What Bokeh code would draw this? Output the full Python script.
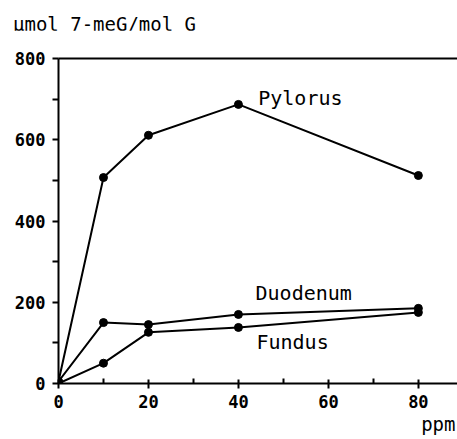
from bokeh.plotting import figure
from bokeh.models import Range1d, LinearAxis, Label, FixedTicker, Title, Div
from bokeh.layouts import column
from bokeh.embed import file_html
from bokeh.resources import INLINE

ppm = [0, 10, 20, 40, 80]
pylorus = [5, 507, 611, 687, 512]
duodenum = [5, 150, 145, 170, 185]
fundus = [0, 50, 126, 138, 175]
x_major = [0, 20, 40, 60, 80]
x_minor = [10, 30, 50, 70]
y_major = [0, 200, 400, 600, 800]
y_minor = [100, 300, 500, 700]
series_names = ["Pylorus", "Duodenum", "Fundus"]
y_title = "μmol 7-meG/mol G"
x_title = "ppm"

FONT = "DejaVu Sans Mono"

head = Div(text=('<div style="padding:13px 0 0 13px; font-family:\'DejaVu Sans Mono\'; '
                 'font-size:19px; line-height:22px; color:black; white-space:nowrap">'
                 + y_title + '</div>'),
           width=457, height=30, margin=(0, 0, 0, 0))

p = figure(width=457, height=409, output_backend="svg", toolbar_location=None,
           x_range=Range1d(0, 88.7), y_range=Range1d(0, 800),
           min_border_left=58, min_border_right=0, min_border_top=28, min_border_bottom=56,
           x_axis_type=None, y_axis_type=None, margin=(0, 0, 0, 0))
p.outline_line_color = None
p.xgrid.visible = False
p.ygrid.visible = False
p.background_fill_color = "white"
p.border_fill_color = "white"

xa = LinearAxis(ticker=FixedTicker(ticks=x_major, minor_ticks=x_minor))
xa.axis_line_width = 2
xa.major_tick_in = 4
xa.major_tick_out = 5
xa.minor_tick_in = 5
xa.minor_tick_out = 0
xa.major_tick_line_width = 2
xa.minor_tick_line_width = 2
xa.major_label_standoff = 6
xa.major_label_text_font = FONT
xa.major_label_text_font_size = "17px"
xa.major_label_text_font_style = "bold"
xa.major_label_text_color = "black"
p.add_layout(xa, "below")

ya = LinearAxis(ticker=FixedTicker(ticks=y_major, minor_ticks=y_minor))
ya.axis_line_width = 2
ya.major_tick_in = 0
ya.major_tick_out = 6
ya.minor_tick_in = 0
ya.minor_tick_out = 6
ya.major_tick_line_width = 2
ya.minor_tick_line_width = 2
ya.major_label_standoff = 7
ya.major_label_text_font = FONT
ya.major_label_text_font_size = "17px"
ya.major_label_text_font_style = "bold"
ya.major_label_text_color = "black"
p.add_layout(ya, "left")

top = LinearAxis(ticker=FixedTicker(ticks=[]))
top.axis_line_width = 2
top.major_tick_in = 0
top.major_tick_out = 0
top.minor_tick_in = 0
top.minor_tick_out = 0
top.major_label_standoff = 0
top.major_label_text_font_size = "0px"
p.add_layout(top, "above")

ppm_title = Title(text=x_title, align="right", text_font=FONT, text_font_size="19px",
                  text_font_style="normal", text_color="black", offset=2, standoff=0)
p.add_layout(ppm_title, "below")

for ys in (pylorus, duodenum, fundus):
    p.line(ppm, ys, line_color="black", line_width=2)
    p.scatter(ppm, ys, size=8, color="black")

label_pos = [(44.4, 702), (43.8, 222), (44.0, 101)]
for name, (lx, ly) in zip(series_names, label_pos):
    p.add_layout(Label(x=lx, y=ly, text=name, text_font=FONT, text_font_size="20px",
                       text_baseline="middle", text_align="left", text_color="black"))

layout = column(head, p, spacing=0)
open("out.html", "w").write(file_html(layout, INLINE))
